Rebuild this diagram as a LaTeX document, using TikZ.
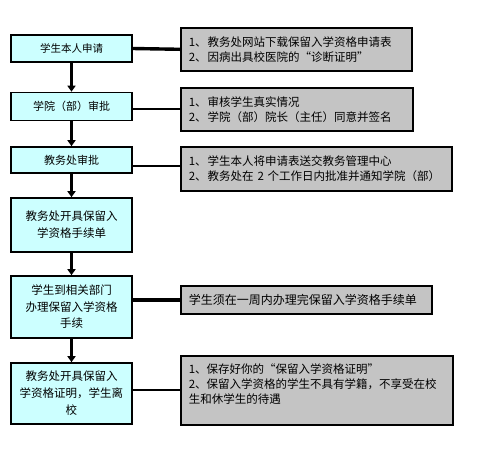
\documentclass[tikz,border=0pt]{standalone}
\usepackage{fontspec}
\setmainfont{Noto Sans CJK SC}
\usetikzlibrary{arrows.meta}
\definecolor{stepfill}{HTML}{CCFFFF}
\definecolor{notefill}{HTML}{C4C4C4}
\tikzset{
  stepbox/.style={draw=black, line width=1.6pt, fill=stepfill, rectangle,
    align=center, inner sep=0pt, minimum width=121pt,
    font=\fontsize{11}{16.5}\selectfont},
  notebox/.style={draw=black, line width=1.6pt, fill=notefill, rectangle,
    align=left, inner xsep=8pt, inner ysep=0pt, anchor=north west,
    font=\fontsize{11.5}{15}\selectfont},
  flowarrow/.style={line width=2.4pt, -{Triangle[length=6pt,width=8pt]}},
  thinlink/.style={line width=2pt},
  thicklink/.style={line width=3.4pt},
}
\begin{document}
\begin{tikzpicture}[x=1pt,y=1pt]
\useasboundingbox[fill=white] (0,0) rectangle (500,-459);

% left steps
\node[stepbox, minimum height=27pt, font=\fontsize{10.5}{15}\selectfont] (l1) at (71.5,-48.5) {学生本人申请};
\node[stepbox, minimum height=28pt] (l2) at (71.5,-106.5) {学院（部）审批};
\node[stepbox, minimum height=26pt] (l3) at (71.5,-160) {教务处审批};
\node[stepbox, minimum height=54pt, font=\fontsize{11.5}{17}\selectfont] (l4) at (71.5,-225) {教务处开具保留入\\学资格手续单};
\node[stepbox, minimum height=62pt, font=\fontsize{11.5}{16.5}\selectfont] (l5) at (71.5,-307) {学生到相关部门\\办理保留入学资格\\手续};
\node[stepbox, minimum height=61pt, font=\fontsize{11.5}{17}\selectfont] (l6) at (71.5,-393.5) {教务处开具保留入\\学资格证明，学生离\\校};

% right notes
\node[notebox, text width=215pt, minimum height=43pt] (r1) at (180,-27)
  {1、\hspace{1pt}教务处网站下载保留入学资格申请表\\2、\hspace{1pt}因病出具校医院的“诊断证明”};
\node[notebox, text width=216pt, minimum height=43pt] (r2) at (180,-87)
  {1、\hspace{1pt}审核学生真实情况\\2、\hspace{1pt}学院（部）院长（主任）同意并签名};
\node[notebox, text width=255pt, minimum height=44pt] (r3) at (180,-146)
  {1、\hspace{1pt}学生本人将申请表送交教务管理中心\\2、\hspace{1pt}教务处在 2 个工作日内批准并通知学院（部）};
\node[notebox, text width=235pt, minimum height=28pt, font=\fontsize{12}{15}\selectfont] (r4) at (180,-285)
  {学生须在一周内办理完保留入学资格手续单};
\node[notebox, text width=256pt, minimum height=69pt] (r5) at (180,-355)
  {1、保存好你的“保留入学资格证明”\\2、保留入学资格的学生不具有学籍，不享受在校\\生和休学生的待遇\\[-6pt]\strut};

% arrows
\draw[flowarrow] (l1) -- (l2);
\draw[flowarrow] (l2) -- (l3);
\draw[flowarrow] (l3) -- (l4);
\draw[flowarrow] (l4) -- (l5);
\draw[flowarrow] (l5) -- (l6);

% links
\draw[thicklink] (l1.east) -- (r1.west);
\draw[thinlink] (r2.west) -- (r2.west -| l2.east);
\draw[thinlink] ([yshift=3pt]r3.west) -- ([yshift=3pt]r3.west -| l3.east);
\draw[thicklink] (r4.west) -- (r4.west -| l5.east);
\draw[thinlink] (r5.west) -- (r5.west -| l6.east);
\end{tikzpicture}
\end{document}
